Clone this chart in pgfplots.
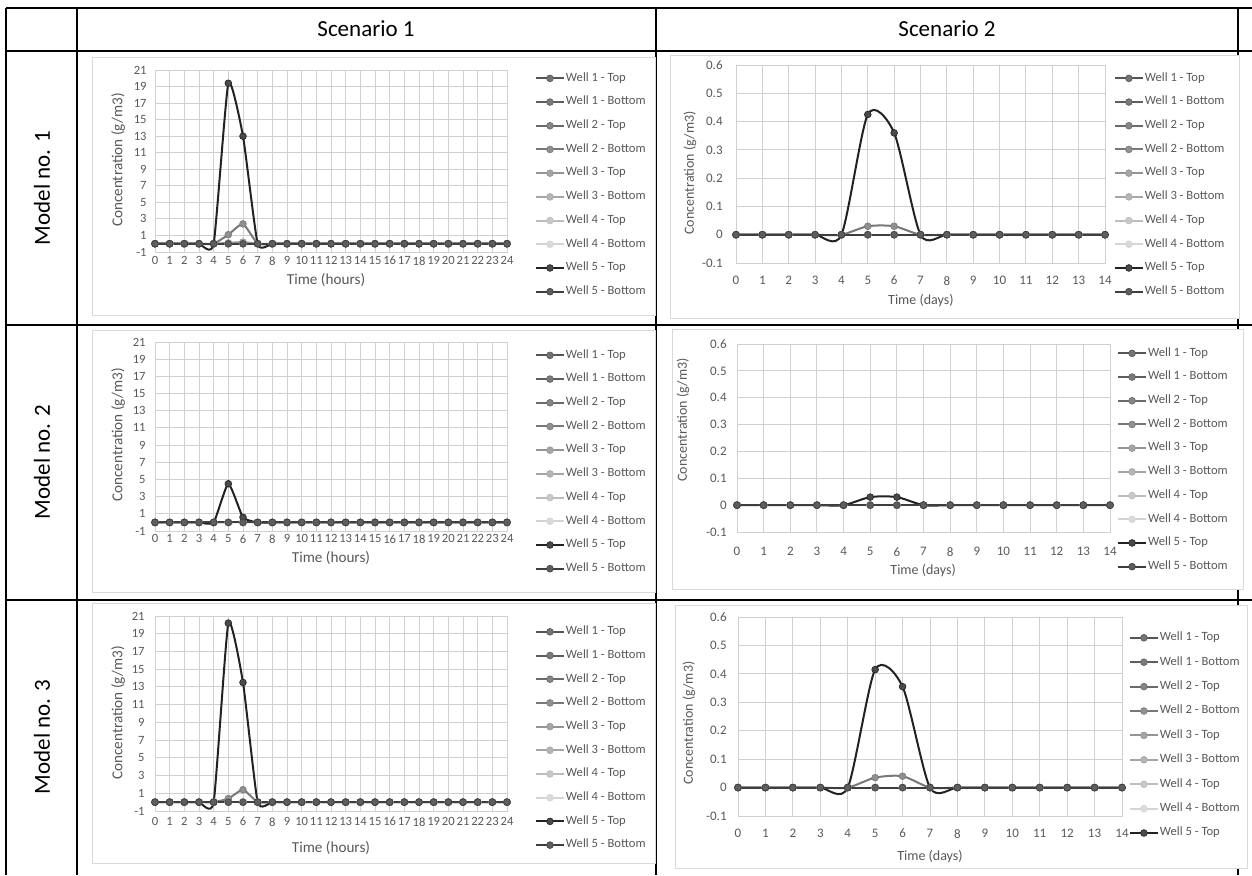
\documentclass[border=0pt]{standalone}
\usepackage{fontspec}
\setmainfont{Carlito}
\usepackage{pgfplots}
\usepackage{pgfplotstable}
\pgfplotsset{compat=1.18}

\definecolor{l1}{HTML}{555555}\definecolor{m1}{HTML}{747474}
\definecolor{l2}{HTML}{5E5E5E}\definecolor{m2}{HTML}{7A7A7A}
\definecolor{l3}{HTML}{6A6A6A}\definecolor{m3}{HTML}{858585}
\definecolor{l4}{HTML}{787878}\definecolor{m4}{HTML}{909090}
\definecolor{l5}{HTML}{949494}\definecolor{m5}{HTML}{A5A5A5}
\definecolor{l6}{HTML}{A6A6A6}\definecolor{m6}{HTML}{B5B5B5}
\definecolor{l7}{HTML}{BDBDBD}\definecolor{m7}{HTML}{C8C8C8}
\definecolor{l8}{HTML}{D4D4D4}\definecolor{m8}{HTML}{DADADA}
\definecolor{l9}{HTML}{222222}\definecolor{m9}{HTML}{4A4A4A}
\definecolor{l10}{HTML}{3E3E3E}\definecolor{m10}{HTML}{5E5E5E}
\definecolor{gridc}{HTML}{D0D0D0}
\definecolor{framec}{HTML}{D9D9D9}
\definecolor{txtc}{HTML}{595959}

\pgfplotscreateplotcyclelist{wells}{
{color=l1,mark=*,mark options={fill=m1,draw=l1,line width=0.3pt}},
{color=l2,mark=*,mark options={fill=m2,draw=l2,line width=0.3pt}},
{color=l3,mark=*,mark options={fill=m3,draw=l3,line width=0.3pt}},
{color=l4,mark=*,mark options={fill=m4,draw=l4,line width=0.3pt}},
{color=l5,mark=*,mark options={fill=m5,draw=l5,line width=0.3pt}},
{color=l6,mark=*,mark options={fill=m6,draw=l6,line width=0.3pt}},
{color=l7,mark=*,mark options={fill=m7,draw=l7,line width=0.3pt}},
{color=l8,mark=*,mark options={fill=m8,draw=l8,line width=0.3pt}},
{color=l9,mark=*,mark options={fill=m9,draw=l9,line width=0.3pt}},
{color=l10,mark=*,mark options={fill=m10,draw=l10,line width=0.3pt}},
}

\pgfplotsset{
 every axis plot/.append style={line width=1pt, smooth, mark size=1.7pt},
 legend image code/.code={\draw[mark repeat=2,mark phase=2,#1] plot coordinates {(0pt,0pt) (7pt,0pt) (14pt,0pt)};},
 wellaxis/.style={
  scale only axis, anchor=north west, clip=false,
  axis line style={draw=gridc, line width=0.5pt},
  grid=major, major grid style={draw=gridc, line width=0.5pt},
  major tick length=0pt,
  /pgf/number format/assume math mode=true,
  tick label style={text=txtc, inner sep=0pt},
  label style={text=txtc, inner sep=0pt},
  cycle list name=wells,
  legend cell align=left,
  legend style={draw=none, fill=none, inner sep=0pt, outer sep=0pt, anchor=west,
    font=\fontsize{6.3}{7}\selectfont, text=txtc, row sep=5.25pt,
    nodes={inner sep=0.5pt, text height=4.2pt, text depth=1.4pt}},
 },
 hours/.style={xmin=0,xmax=24,ymin=-1,ymax=21,
  xtick={0,...,24}, ytick={-1,1,...,21},
  every axis plot/.append style={tension=0.3},
  xticklabel style={font=\fontsize{6.3}{7}\selectfont, anchor=north},
  yticklabel style={font=\fontsize{6.3}{7}\selectfont, anchor=east},
  xlabel={Time (hours)}, ylabel={Concentration (g/m3)},
  label style={font=\fontsize{7.6}{9}\selectfont}},
 days/.style={xmin=0,xmax=14,ymin=-0.1,ymax=0.6,
  xtick={0,...,14}, ytick={-0.1,0,0.1,0.2,0.3,0.4,0.5,0.6},
  every axis plot/.append style={tension=0.45},
  xticklabel style={font=\fontsize{6.5}{7}\selectfont, anchor=north},
  yticklabel style={font=\fontsize{6.5}{7}\selectfont, anchor=east},
  xlabel={Time (days)}, ylabel={Concentration (g/m3)},
  label style={font=\fontsize{7}{8}\selectfont}},
}

\newcommand{\wells}[1]{%
 \addplot table[x=x,y=w1t]{#1};
 \addplot table[x=x,y=w1b]{#1};
 \addplot table[x=x,y=w2t]{#1};
 \addplot table[x=x,y=w2b]{#1};
 \addplot table[x=x,y=w3t]{#1};
 \addplot table[x=x,y=w3b]{#1};
 \addplot table[x=x,y=w4t]{#1};
 \addplot table[x=x,y=w4b]{#1};
 \addplot table[x=x,y=w5t]{#1};
 \addplot table[x=x,y=w5b]{#1};
}

% Model 1, Scenario 1 (hours)
\pgfplotstableread{
x w1t w1b w2t w2b w3t w3b w4t w4b w5t w5b
0 0 0 0 0 0 0 0 0 0 0
1 0 0 0 0 0 0 0 0 0 0
2 0 0 0 0 0 0 0 0 0 0
3 0 0 0 0 0 0 0 0 0 0
4 0 0 0 0 0 0 0 0 0 0
5 0 0 0 1.1 0.1 0 0 0 19.4 0
6 0 0 0 2.4 0.2 0 0 0 13.0 0
7 0 0 0 0 0 0 0 0 0 0
8 0 0 0 0 0 0 0 0 0 0
9 0 0 0 0 0 0 0 0 0 0
10 0 0 0 0 0 0 0 0 0 0
11 0 0 0 0 0 0 0 0 0 0
12 0 0 0 0 0 0 0 0 0 0
13 0 0 0 0 0 0 0 0 0 0
14 0 0 0 0 0 0 0 0 0 0
15 0 0 0 0 0 0 0 0 0 0
16 0 0 0 0 0 0 0 0 0 0
17 0 0 0 0 0 0 0 0 0 0
18 0 0 0 0 0 0 0 0 0 0
19 0 0 0 0 0 0 0 0 0 0
20 0 0 0 0 0 0 0 0 0 0
21 0 0 0 0 0 0 0 0 0 0
22 0 0 0 0 0 0 0 0 0 0
23 0 0 0 0 0 0 0 0 0 0
24 0 0 0 0 0 0 0 0 0 0
}\tabA
% Model 2, Scenario 1 (hours)
\pgfplotstableread{
x w1t w1b w2t w2b w3t w3b w4t w4b w5t w5b
0 0 0 0 0 0 0 0 0 0 0
1 0 0 0 0 0 0 0 0 0 0
2 0 0 0 0 0 0 0 0 0 0
3 0 0 0 0 0 0 0 0 0 0
4 0 0 0 0 0 0 0 0 0 0
5 0 0 0 0 0 0 0 0 4.5 0
6 0 0 0 0 0.05 0 0 0 0.6 0
7 0 0 0 0 0 0 0 0 0 0
8 0 0 0 0 0 0 0 0 0 0
9 0 0 0 0 0 0 0 0 0 0
10 0 0 0 0 0 0 0 0 0 0
11 0 0 0 0 0 0 0 0 0 0
12 0 0 0 0 0 0 0 0 0 0
13 0 0 0 0 0 0 0 0 0 0
14 0 0 0 0 0 0 0 0 0 0
15 0 0 0 0 0 0 0 0 0 0
16 0 0 0 0 0 0 0 0 0 0
17 0 0 0 0 0 0 0 0 0 0
18 0 0 0 0 0 0 0 0 0 0
19 0 0 0 0 0 0 0 0 0 0
20 0 0 0 0 0 0 0 0 0 0
21 0 0 0 0 0 0 0 0 0 0
22 0 0 0 0 0 0 0 0 0 0
23 0 0 0 0 0 0 0 0 0 0
24 0 0 0 0 0 0 0 0 0 0
}\tabC
% Model 3, Scenario 1 (hours)
\pgfplotstableread{
x w1t w1b w2t w2b w3t w3b w4t w4b w5t w5b
0 0 0 0 0 0 0 0 0 0 0
1 0 0 0 0 0 0 0 0 0 0
2 0 0 0 0 0 0 0 0 0 0
3 0 0 0 0 0 0 0 0 0 0
4 0 0 0 0 0 0 0 0 0 0
5 0 0 0 0.4 0 0 0 0 20.2 0
6 0 0 0 1.4 0 0 0 0 13.5 0
7 0 0 0 0 0 0 0 0 0 0
8 0 0 0 0 0 0 0 0 0 0
9 0 0 0 0 0 0 0 0 0 0
10 0 0 0 0 0 0 0 0 0 0
11 0 0 0 0 0 0 0 0 0 0
12 0 0 0 0 0 0 0 0 0 0
13 0 0 0 0 0 0 0 0 0 0
14 0 0 0 0 0 0 0 0 0 0
15 0 0 0 0 0 0 0 0 0 0
16 0 0 0 0 0 0 0 0 0 0
17 0 0 0 0 0 0 0 0 0 0
18 0 0 0 0 0 0 0 0 0 0
19 0 0 0 0 0 0 0 0 0 0
20 0 0 0 0 0 0 0 0 0 0
21 0 0 0 0 0 0 0 0 0 0
22 0 0 0 0 0 0 0 0 0 0
23 0 0 0 0 0 0 0 0 0 0
24 0 0 0 0 0 0 0 0 0 0
}\tabE
% Model 1, Scenario 2 (days)
\pgfplotstableread{
x w1t w1b w2t w2b w3t w3b w4t w4b w5t w5b
0 0 0 0 0 0 0 0 0 0 0
1 0 0 0 0 0 0 0 0 0 0
2 0 0 0 0 0 0 0 0 0 0
3 0 0 0 0 0 0 0 0 0 0
4 0 0 0 0 0 0 0 0 0 0
5 0 0 0 0.03 0 0 0 0 0.425 0
6 0 0 0 0.03 0 0 0 0 0.36 0
7 0 0 0 0 0 0 0 0 0 0
8 0 0 0 0 0 0 0 0 0 0
9 0 0 0 0 0 0 0 0 0 0
10 0 0 0 0 0 0 0 0 0 0
11 0 0 0 0 0 0 0 0 0 0
12 0 0 0 0 0 0 0 0 0 0
13 0 0 0 0 0 0 0 0 0 0
14 0 0 0 0 0 0 0 0 0 0
}\tabB
% Model 2, Scenario 2 (days)
\pgfplotstableread{
x w1t w1b w2t w2b w3t w3b w4t w4b w5t w5b
0 0 0 0 0 0 0 0 0 0 0
1 0 0 0 0 0 0 0 0 0 0
2 0 0 0 0 0 0 0 0 0 0
3 0 0 0 0 0 0 0 0 0 0
4 0 0 0 0 0 0 0 0 0 0
5 0 0 0 0 0 0 0 0 0.03 0
6 0 0 0 0 0 0 0 0 0.03 0
7 0 0 0 0 0 0 0 0 0 0
8 0 0 0 0 0 0 0 0 0 0
9 0 0 0 0 0 0 0 0 0 0
10 0 0 0 0 0 0 0 0 0 0
11 0 0 0 0 0 0 0 0 0 0
12 0 0 0 0 0 0 0 0 0 0
13 0 0 0 0 0 0 0 0 0 0
14 0 0 0 0 0 0 0 0 0 0
}\tabD
% Model 3, Scenario 2 (days)
\pgfplotstableread{
x w1t w1b w2t w2b w3t w3b w4t w4b w5t w5b
0 0 0 0 0 0 0 0 0 0 0
1 0 0 0 0 0 0 0 0 0 0
2 0 0 0 0 0 0 0 0 0 0
3 0 0 0 0 0 0 0 0 0 0
4 0 0 0 0 0 0 0 0 0 0
5 0 0 0 0.035 0 0 0 0 0.415 0
6 0 0 0 0.04 0 0 0 0 0.355 0
7 0 0 0 0 0 0 0 0 0 0
8 0 0 0 0 0 0 0 0 0 0
9 0 0 0 0 0 0 0 0 0 0
10 0 0 0 0 0 0 0 0 0 0
11 0 0 0 0 0 0 0 0 0 0
12 0 0 0 0 0 0 0 0 0 0
13 0 0 0 0 0 0 0 0 0 0
14 0 0 0 0 0 0 0 0 0 0
}\tabF

\begin{document}
\begin{tikzpicture}[x=0.5pt,y=-0.5pt]
\useasboundingbox (0,0) rectangle (1252,875);
% table grid
\begin{scope}[line width=1.2pt]
\draw (6,8) -- (1252,8);
\draw (6,51) -- (1252,51);
\draw (6,325) -- (1252,325);
\draw (6,600) -- (1252,600);
\draw (6,8) -- (6,875);
\draw (77,8) -- (77,875);
\draw (656,8) -- (656,875);
\draw (1238,8) -- (1238,875);
\end{scope}
\node[font=\fontsize{11.5}{13}\selectfont] at (366,29) {Scenario 1};
\node[font=\fontsize{11.5}{13}\selectfont] at (947,29) {Scenario 2};
\node[font=\fontsize{11.5}{13}\selectfont,rotate=90] at (42,188) {Model no. 1};
\node[font=\fontsize{11.5}{13}\selectfont,rotate=90] at (42,462) {Model no. 2};
\node[font=\fontsize{11.5}{13}\selectfont,rotate=90] at (42,737) {Model no. 3};
% chart frames
\begin{scope}[draw=framec, fill=white, line width=0.5pt]
\filldraw (92,57) rectangle (655,315);
\filldraw (670,55) rectangle (1239,318);
\filldraw (92,330) rectangle (655,592);
\filldraw (672,329) rectangle (1243,589);
\filldraw (92,603) rectangle (655,863);
\filldraw (675,605) rectangle (1247,868);
\end{scope}

% Model 1, Scenario 1
\begin{axis}[wellaxis, hours, at={(77.5pt,-35pt)}, width=176pt, height=91pt,
 xticklabel style={yshift=-2.0pt}, yticklabel style={xshift=-4pt},
 xlabel style={at={(axis description cs:0.486,-0.154)},anchor=center},
 ylabel style={at={(axis description cs:-0.105,0.505)},anchor=center},
 legend style={at={(1.0795,0.368)}}]
\wells{\tabA}
\legend{Well 1 - Top,Well 1 - Bottom,Well 2 - Top,Well 2 - Bottom,Well 3 - Top,Well 3 - Bottom,Well 4 - Top,Well 4 - Bottom,Well 5 - Top,Well 5 - Bottom}
\end{axis}

% Model 1, Scenario 2
\begin{axis}[wellaxis, days, at={(368pt,-32.5pt)}, width=184.5pt, height=99pt,
 xticklabel style={yshift=-6.4pt}, yticklabel style={xshift=-6.5pt},
 xlabel style={at={(axis description cs:0.501,-0.187)},anchor=center},
 ylabel style={at={(axis description cs:-0.125,0.455)},anchor=center},
 legend style={at={(1.024,0.394)}}]
\wells{\tabB}
\legend{Well 1 - Top,Well 1 - Bottom,Well 2 - Top,Well 2 - Bottom,Well 3 - Top,Well 3 - Bottom,Well 4 - Top,Well 4 - Bottom,Well 5 - Top,Well 5 - Bottom}
\end{axis}

% Model 2, Scenario 1
\begin{axis}[wellaxis, hours, at={(77.5pt,-171pt)}, width=176pt, height=94.5pt,
 xticklabel style={yshift=-1.6pt}, yticklabel style={xshift=-4.5pt},
 xlabel style={at={(axis description cs:0.5,-0.143)},anchor=center},
 ylabel style={at={(axis description cs:-0.105,0.508)},anchor=center},
 legend style={at={(1.0795,0.365)}}]
\wells{\tabC}
\legend{Well 1 - Top,Well 1 - Bottom,Well 2 - Top,Well 2 - Bottom,Well 3 - Top,Well 3 - Bottom,Well 4 - Top,Well 4 - Bottom,Well 5 - Top,Well 5 - Bottom}
\end{axis}

% Model 2, Scenario 2
\begin{axis}[wellaxis, days, at={(368.5pt,-172pt)}, width=186.5pt, height=94pt,
 xticklabel style={yshift=-7.4pt}, yticklabel style={xshift=-5pt},
 xlabel style={at={(axis description cs:0.499,-0.207)},anchor=center},
 ylabel style={at={(axis description cs:-0.145,0.596)},anchor=center},
 legend style={at={(1.019,0.383)}}]
\wells{\tabD}
\legend{Well 1 - Top,Well 1 - Bottom,Well 2 - Top,Well 2 - Bottom,Well 3 - Top,Well 3 - Bottom,Well 4 - Top,Well 4 - Bottom,Well 5 - Top,Well 5 - Bottom}
\end{axis}

% Model 3, Scenario 1
\begin{axis}[wellaxis, hours, at={(77.5pt,-308pt)}, width=176pt, height=97.5pt,
 xticklabel style={yshift=-3.0pt}, yticklabel style={xshift=-5pt},
 xlabel style={at={(axis description cs:0.5,-0.19)},anchor=center},
 ylabel style={at={(axis description cs:-0.105,0.503)},anchor=center},
 legend style={at={(1.0795,0.372)}}]
\wells{\tabE}
\legend{Well 1 - Top,Well 1 - Bottom,Well 2 - Top,Well 2 - Bottom,Well 3 - Top,Well 3 - Bottom,Well 4 - Top,Well 4 - Bottom,Well 5 - Top,Well 5 - Bottom}
\end{axis}

% Model 3, Scenario 2
\begin{axis}[wellaxis, days, at={(369pt,-308.5pt)}, width=192pt, height=99.5pt,
 xticklabel style={yshift=-6.4pt}, yticklabel style={xshift=-5.5pt},
 xlabel style={at={(axis description cs:0.5,-0.201)},anchor=center},
 ylabel style={at={(axis description cs:-0.128,0.467)},anchor=center},
 legend style={at={(1.018,0.405)}, row sep=5.6pt}]
\wells{\tabF}
\legend{Well 1 - Top,Well 1 - Bottom,Well 2 - Top,Well 2 - Bottom,Well 3 - Top,Well 3 - Bottom,Well 4 - Top,Well 4 - Bottom,Well 5 - Top}
\end{axis}
\end{tikzpicture}
\end{document}
